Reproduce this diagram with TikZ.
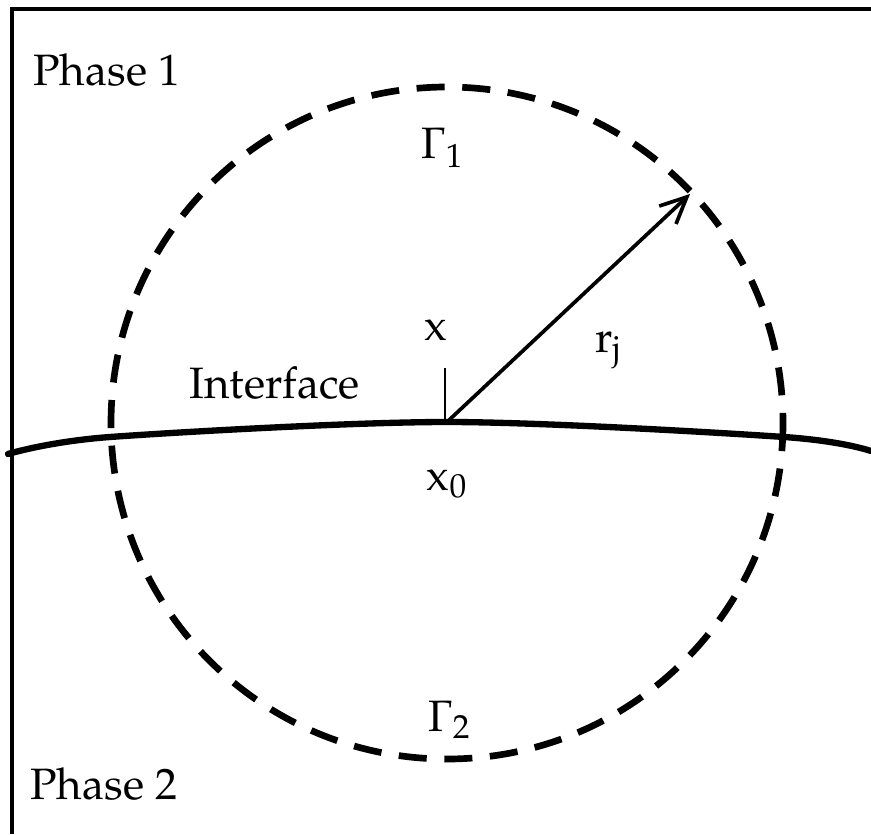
\documentclass[tikz,border=0pt]{standalone}
\usepackage[T1]{fontenc}
\usepackage{mathpazo}
\usepackage{tikz}
\usetikzlibrary{arrows.meta}

\begin{document}
\begin{tikzpicture}[x=0.02cm,y=-0.02cm,
  lbl/.style={inner sep=0pt,font=\fontsize{25}{30}\selectfont},
  border/.style={line width=2pt},
  bound/.style={line width=3.8pt,dash pattern=on 16pt off 10pt},
  iface/.style={line width=3.6pt,line cap=round}]
\useasboundingbox (0,0) rectangle (871,834);
% frame (only top and left edge are visible)
\draw[border] (12,834) -- (12,9) -- (871,9);
% interface, control circle and radius
\coordinate (xzero) at (447,422);
\coordinate (rim) at (690,194);
\coordinate (xtop) at (445,368);
\draw[bound] (447,423) circle[radius=336];
\draw[iface] plot[smooth] coordinates {(8,454) (110,437) (447,422) (784,437) (871,451)};
\draw[line width=1.5pt] (445,422) -- (xtop);
\draw[line width=2.1pt,-{Straight Barb[length=15pt,width=14pt,line width=2.1pt]}] (xzero) -- (rim);
% labels
\node[lbl,anchor=base west] (phaseA) at (33,86) {Phase 1};
\node[lbl,anchor=base west] (phaseB) at (30,799) {Phase 2};
\node[lbl,anchor=base west] (ifacelbl) at (189,398) {Interface};
\node[lbl,anchor=base] (gammaA) at (442,159) {$\Gamma_1$};
\node[lbl,anchor=base] (gammaB) at (449,731) {$\Gamma_2$};
\node[lbl,anchor=base] (xlbl) at (436,340) {$\mathrm{x}$};
\node[lbl,anchor=base] (xzerolbl) at (447,490) {$\mathrm{x}_0$};
\node[lbl,anchor=base west] (rjlbl) at (595,352) {$\mathrm{r}_\mathrm{j}$};
\end{tikzpicture}
\end{document}
